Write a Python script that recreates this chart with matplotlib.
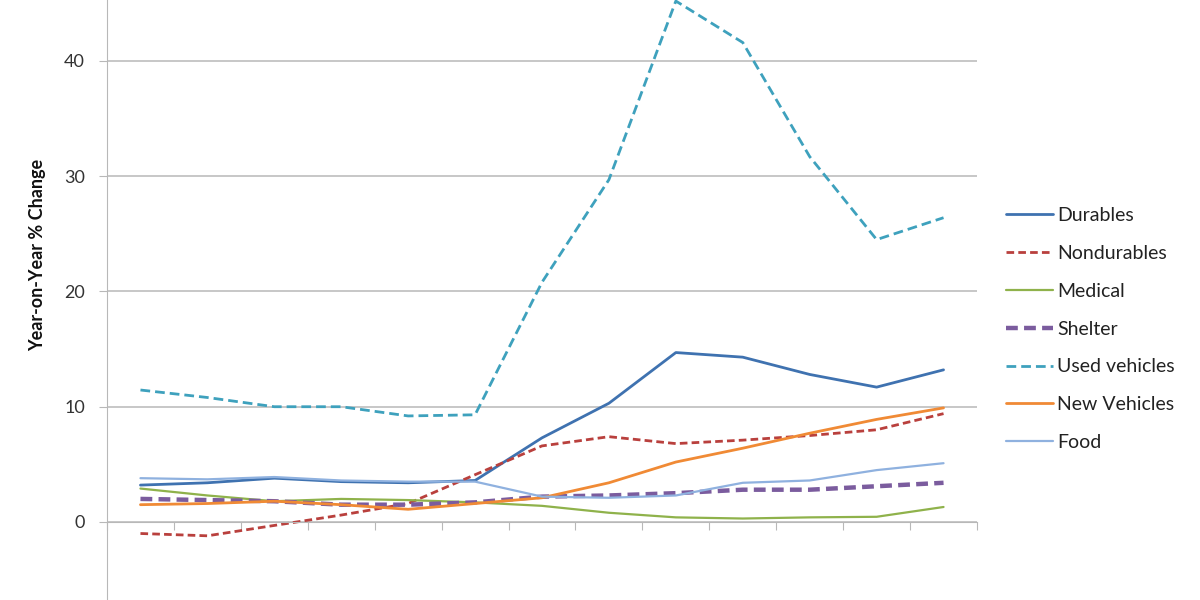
import matplotlib
matplotlib.use("Agg")
import matplotlib.pyplot as plt
import numpy as np

plt.rcParams['font.family'] = ['Lato', 'DejaVu Sans']
plt.rcParams['lines.scale_dashes'] = False

# 13 periods (category labels are cut off in the reference)
periods = np.arange(13)

durables = [3.2, 3.4, 3.8, 3.5, 3.4, 3.6, 7.3, 10.3, 14.7, 14.3, 12.8, 11.7, 13.2]
nondurables = [-1.0, -1.2, -0.3, 0.6, 1.6, 4.1, 6.6, 7.4, 6.8, 7.1, 7.5, 8.0, 9.4]
medical = [2.9, 2.3, 1.8, 2.0, 1.9, 1.7, 1.4, 0.8, 0.4, 0.3, 0.4, 0.45, 1.3]
shelter = [2.0, 1.9, 1.8, 1.5, 1.5, 1.7, 2.2, 2.3, 2.5, 2.8, 2.8, 3.1, 3.4]
used_vehicles = [11.45, 10.8, 10.0, 10.0, 9.2, 9.3, 20.8, 29.7, 45.2, 41.6, 31.7, 24.5, 26.4]
new_vehicles = [1.5, 1.6, 1.8, 1.5, 1.1, 1.6, 2.1, 3.4, 5.2, 6.4, 7.7, 8.9, 9.9]
food = [3.8, 3.7, 3.9, 3.6, 3.5, 3.5, 2.2, 2.1, 2.3, 3.4, 3.6, 4.5, 5.1]

series = [
    ("Durables", durables, "#3f72b0", 2.0, None),
    ("Nondurables", nondurables, "#b9403d", 2.0, (5.5, 3.0)),
    ("Medical", medical, "#8fb24b", 1.6, None),
    ("Shelter", shelter, "#7b5c9e", 3.2, (8.5, 4.5)),
    ("Used vehicles", used_vehicles, "#3ea1bd", 2.0, (7.0, 3.6)),
    ("New Vehicles", new_vehicles, "#f08a35", 2.0, None),
    ("Food", food, "#8fb1df", 1.6, None),
]

fig = plt.figure(figsize=(12, 6), dpi=100)
ax = fig.add_axes([107 / 1200, 0, 870 / 1200, 1])

for name, vals, color, lw, dash in series:
    line, = ax.plot(periods, vals, color=color, lw=lw, label=name,
                    solid_capstyle='round', dash_capstyle='butt')
    if dash is not None:
        line.set_dashes(dash)

ax.set_xlim(-0.5, 12.5)
ax.set_ylim(-6.77, 45.29)

grid_color = "#b8b8b8"
ax.set_yticks([0, 10, 20, 30, 40])
ax.yaxis.grid(True, color=grid_color, lw=1.1)
ax.set_axisbelow(True)
ax.tick_params(axis='y', direction='out', length=6, color=grid_color,
               labelsize=13, labelcolor="#333333", pad=10)

ax.spines['bottom'].set_position(('data', 0))
ax.spines['bottom'].set_color(grid_color)
ax.spines['left'].set_color(grid_color)
ax.spines['top'].set_visible(False)
ax.spines['right'].set_visible(False)
ax.set_xticks(np.arange(-0.5, 13, 1))
ax.tick_params(axis='x', direction='out', length=6, color=grid_color,
               labelbottom=False)

fig.text(38 / 1200, 1 - 255 / 600, "Year-on-Year % Change", rotation=90,
         fontsize=13, fontweight='bold', ha='center', va='center',
         color="#111111")

leg = fig.legend(loc='center left', bbox_to_anchor=(988 / 1200, 1 - 329 / 600),
                 frameon=False, fontsize=14, handlelength=2.45,
                 handletextpad=0.2, labelspacing=1.07)
for t in leg.get_texts():
    t.set_color("#222222")

fig.savefig("out.png", dpi=100)
